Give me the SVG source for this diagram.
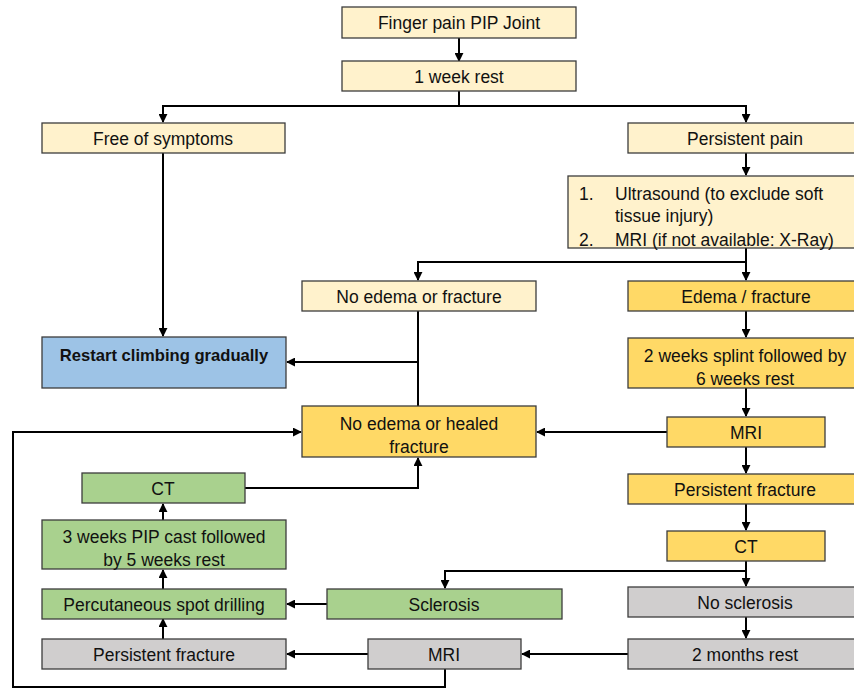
<svg xmlns="http://www.w3.org/2000/svg" width="854" height="690" viewBox="0 0 854 690">
<style>
rect{stroke:#3c3c3c;stroke-width:1.3}
.ly{fill:#FFF2CC}.dy{fill:#FFD966}.gr{fill:#A9D18E}.bl{fill:#9DC3E6}.gy{fill:#D0CECE}
text{font-family:"Liberation Sans",Arial,sans-serif;font-size:17.5px;fill:#111;text-anchor:middle}
.b{font-weight:bold;font-size:16.6px}
.l{text-anchor:start}
.c{fill:none;stroke:#000;stroke-width:2}
</style>
<defs>
<marker id="a" viewBox="0 0 10 10" refX="9" refY="5" markerWidth="4.5" markerHeight="4.5" orient="auto" markerUnits="strokeWidth">
<path d="M0,0 L10,5 L0,10 z" fill="#000"/>
</marker>
</defs>
<rect width="854" height="690" fill="#fff" style="stroke:none"/>
<g id="connectors">
<path class="c" d="M459,38 V61" marker-end="url(#a)"/>
<path class="c" d="M459,91 V106 H163 V122" marker-end="url(#a)"/>
<path class="c" d="M459,106 H746 V122" marker-end="url(#a)"/>
<path class="c" d="M163,153 V336" marker-end="url(#a)"/>
<path class="c" d="M746,153 V175" marker-end="url(#a)"/>
<path class="c" d="M746,248 V262 H418 V280" marker-end="url(#a)"/>
<path class="c" d="M746,262 V280" marker-end="url(#a)"/>
<path class="c" d="M418,311 V406"/>
<path class="c" d="M418,362 H287" marker-end="url(#a)"/>
<path class="c" d="M746,311 V337" marker-end="url(#a)"/>
<path class="c" d="M746,388 V416" marker-end="url(#a)"/>
<path class="c" d="M667,432 H537" marker-end="url(#a)"/>
<path class="c" d="M746,447 V473" marker-end="url(#a)"/>
<path class="c" d="M746,504 V530" marker-end="url(#a)"/>
<path class="c" d="M746,561 V571 H445 V588" marker-end="url(#a)"/>
<path class="c" d="M746,571 V586" marker-end="url(#a)"/>
<path class="c" d="M746,617 V638" marker-end="url(#a)"/>
<path class="c" d="M628,654 H522" marker-end="url(#a)"/>
<path class="c" d="M368,654 H287" marker-end="url(#a)"/>
<path class="c" d="M445,668 V687 H13 V432 H301" marker-end="url(#a)"/>
<path class="c" d="M163,639 V619" marker-end="url(#a)"/>
<path class="c" d="M327,604 H287" marker-end="url(#a)"/>
<path class="c" d="M163,589 V570" marker-end="url(#a)"/>
<path class="c" d="M163,520 V504" marker-end="url(#a)"/>
<path class="c" d="M245,488 H418 V458" marker-end="url(#a)"/>
</g>
<g id="n1"><rect class="ly" x="342" y="7" width="234" height="31"/><text x="459" y="29">Finger pain PIP Joint</text></g>
<g id="n2"><rect class="ly" x="342" y="61" width="234" height="30"/><text x="459" y="82.5">1 week rest</text></g>
<g id="n3"><rect class="ly" x="42" y="123" width="243" height="30"/><text x="163" y="144.5">Free of symptoms</text></g>
<g id="n4"><rect class="ly" x="628" y="123" width="240" height="30"/><text x="745" y="144.5">Persistent pain</text></g>
<g id="n5"><rect class="ly" x="568" y="176" width="300" height="72"/>
<text class="l" x="579" y="200">1.</text><text class="l" x="615" y="200">Ultrasound (to exclude soft</text>
<text class="l" x="615" y="222">tissue injury)</text>
<text class="l" x="579" y="246">2.</text><text class="l" x="615" y="246">MRI (if not available: X-Ray)</text></g>
<g id="n6"><rect class="ly" x="302" y="281" width="234" height="30"/><text x="419" y="302.5">No edema or fracture</text></g>
<g id="n7"><rect class="dy" x="628" y="281" width="240" height="30"/><text x="746" y="302.5">Edema / fracture</text></g>
<g id="n8"><rect class="bl" x="42" y="337" width="244" height="51"/><text class="b" x="164" y="361">Restart climbing gradually</text></g>
<g id="n9"><rect class="dy" x="628" y="338" width="240" height="50"/><text x="745" y="362">2 weeks splint followed by</text><text x="745" y="385">6 weeks rest</text></g>
<g id="n10"><rect class="dy" x="302" y="406" width="234" height="51"/><text x="419" y="430">No edema or healed</text><text x="419" y="453">fracture</text></g>
<g id="n11"><rect class="dy" x="667" y="417" width="158" height="30"/><text x="746" y="438.5">MRI</text></g>
<g id="n12"><rect class="dy" x="628" y="474" width="240" height="30"/><text x="745" y="495.5">Persistent fracture</text></g>
<g id="n13"><rect class="gr" x="82" y="473" width="163" height="30"/><text x="163" y="494.5">CT</text></g>
<g id="n14"><rect class="gr" x="42" y="520" width="244" height="49"/><text x="164" y="543">3 weeks PIP cast followed</text><text x="164" y="566">by 5 weeks rest</text></g>
<g id="n15"><rect class="dy" x="667" y="531" width="158" height="30"/><text x="746" y="552.5">CT</text></g>
<g id="n16"><rect class="gr" x="42" y="589" width="244" height="30"/><text x="164" y="610.5">Percutaneous spot drilling</text></g>
<g id="n17"><rect class="gr" x="327" y="589" width="235" height="30"/><text x="444" y="610.5">Sclerosis</text></g>
<g id="n18"><rect class="gy" x="628" y="587" width="240" height="30"/><text x="745" y="608.5">No sclerosis</text></g>
<g id="n19"><rect class="gy" x="42" y="639" width="244" height="30"/><text x="164" y="660.5">Persistent fracture</text></g>
<g id="n20"><rect class="gy" x="368" y="639" width="153" height="30"/><text x="444" y="660.5">MRI</text></g>
<g id="n21"><rect class="gy" x="628" y="639" width="240" height="30"/><text x="745" y="660.5">2 months rest</text></g>
</svg>
